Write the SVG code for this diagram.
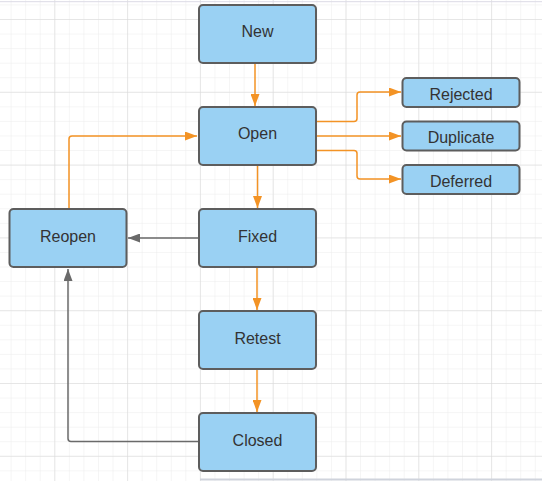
<svg xmlns="http://www.w3.org/2000/svg" width="542" height="481" viewBox="0 0 542 481">
<style>
.node rect{fill:#9ad1f3;stroke:#5d5d5d;stroke-width:2}
.node text{font-family:"Liberation Sans",Arial,sans-serif;font-size:16px;fill:#333;text-anchor:middle;dominant-baseline:central}
.or{fill:none;stroke:#f39325;stroke-width:1.5}
.gr{fill:none;stroke:#6a6a6a;stroke-width:1.5}
</style>
<defs>
<pattern id="minor" x="54.3" y="19" width="14.56" height="14.56" patternUnits="userSpaceOnUse">
<path d="M0 0H14.56M0 0V14.56" fill="none" stroke="#ebebeb" stroke-width="1"/>
</pattern>
<pattern id="major" x="54.3" y="19" width="72.8" height="72.8" patternUnits="userSpaceOnUse">
<path d="M0 0H72.8M0 0V72.8" fill="none" stroke="#d8d8d8" stroke-width="1"/>
</pattern>
<marker id="ao" viewBox="0 0 12 9" refX="12" refY="4.5" markerWidth="12" markerHeight="9" markerUnits="userSpaceOnUse" orient="auto">
<path d="M0 0L12 4.5L0 9Z" fill="#f39325"/>
</marker>
<marker id="ag" viewBox="0 0 12 9" refX="12" refY="4.5" markerWidth="12" markerHeight="9" markerUnits="userSpaceOnUse" orient="auto">
<path d="M0 0L12 4.5L0 9Z" fill="#6a6a6a"/>
</marker>
</defs>
<rect width="542" height="481" fill="#fff"/>
<rect width="542" height="481" fill="url(#minor)"/>
<rect width="542" height="481" fill="url(#major)"/>
<line x1="0" y1="1.7" x2="542" y2="1.7" stroke="#dcdae6" stroke-width="1"/>
<line x1="200" y1="479.5" x2="542" y2="479.5" stroke="#cfd3dc" stroke-width="2"/>
<g id="connectors">
<path class="or" d="M255 63V106" marker-end="url(#ao)"/>
<path class="or" d="M257.5 166V208" marker-end="url(#ao)"/>
<path class="or" d="M257 268V310" marker-end="url(#ao)"/>
<path class="or" d="M257 370V412" marker-end="url(#ao)"/>
<path class="or" d="M316 121.5H354Q357 121.5 357 118.5V95Q357 92 360 92H401" marker-end="url(#ao)"/>
<path class="or" d="M316 136H401" marker-end="url(#ao)"/>
<path class="or" d="M316 150.5H354Q357 150.5 357 153.5V176Q357 179 360 179H401" marker-end="url(#ao)"/>
<path class="or" d="M69 208V139Q69 136 72 136H197" marker-end="url(#ao)"/>
<path class="gr" d="M199 238H128" marker-end="url(#ag)"/>
<path class="gr" d="M199 441.5H71Q68 441.5 68 438.5V269" marker-end="url(#ag)"/>
</g>
<g id="new" class="node"><rect x="199" y="5" width="117" height="58" rx="4"/><text x="257.5" y="31">New</text></g>
<g id="open" class="node"><rect x="199" y="107" width="117" height="58" rx="4"/><text x="257.5" y="133">Open</text></g>
<g id="fixed" class="node"><rect x="199" y="209" width="117" height="58" rx="4"/><text x="257.5" y="236">Fixed</text></g>
<g id="retest" class="node"><rect x="199" y="311" width="117" height="58" rx="4"/><text x="257.5" y="338">Retest</text></g>
<g id="closed" class="node"><rect x="199" y="413" width="117" height="58" rx="4"/><text x="257.5" y="440">Closed</text></g>
<g id="reopen" class="node"><rect x="9.5" y="209" width="117" height="58" rx="4"/><text x="68" y="236">Reopen</text></g>
<g id="rejected" class="node"><rect x="402.5" y="78" width="117" height="29" rx="4"/><text x="461" y="94">Rejected</text></g>
<g id="duplicate" class="node"><rect x="402.5" y="121.5" width="117" height="29" rx="4"/><text x="461" y="137">Duplicate</text></g>
<g id="deferred" class="node"><rect x="402.5" y="165" width="117" height="29" rx="4"/><text x="461" y="181">Deferred</text></g>
</svg>
